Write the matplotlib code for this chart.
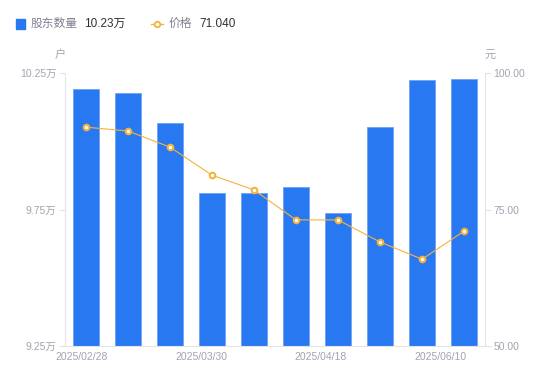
import numpy as np
import matplotlib.pyplot as plt

plt.rcParams['font.family'] = ['Liberation Sans', 'Noto Sans CJK SC', 'DejaVu Sans']

dates = ['2025/02/28', '2025/03/30', '2025/04/18', '2025/06/10']
holders = [10.191, 10.177, 10.067, 9.81, 9.81, 9.832, 9.737, 10.052, 10.225, 10.23]  # 万户
price = [90.1, 89.4, 86.45, 81.3, 78.6, 73.1, 73.1, 69.05, 65.9, 71.04]

blue = '#2878f2'
orange = '#f5b23c'
grey = '#a3a3b3'
axcol = '#e3e3e8'

fig = plt.figure(figsize=(5.5, 3.81), dpi=100)
ax = fig.add_axes([0.118, 0.092, 0.764, 0.716])
ax2 = ax.twinx()

x = np.arange(len(holders))
ax.bar(x, holders, width=0.6, color=blue, edgecolor='#6ea3f5', linewidth=0.6, zorder=2)
ax.set_xlim(-0.5, 9.5)
ax.set_ylim(9.25, 10.25)
ax.set_yticks([9.25, 9.75, 10.25])
ax.set_yticklabels(['9.25万', '9.75万', '10.25万'])

ax2.plot(x, price, color=orange, linewidth=0.8, marker='o', markersize=4,
         markerfacecolor='white', markeredgecolor=orange, markeredgewidth=1.5, zorder=3)
ax2.set_ylim(50, 100)
ax2.set_yticks([50, 75, 100])
ax2.set_yticklabels(['50.00', '75.00', '100.00'])

# date labels are spread evenly, not on the bars
ax.set_xticks(np.linspace(-0.1, 8.43, 4))
ax.set_xticklabels(dates)

for a in (ax, ax2):
    for s in a.spines.values():
        s.set_visible(False)
    a.tick_params(axis='y', colors=axcol, labelcolor=grey, labelsize=7.5, length=4, width=0.8, pad=2)
    a.tick_params(axis='x', length=0, labelcolor=grey, labelsize=7.5, pad=4)
ax.spines['left'].set_visible(True)
ax.spines['left'].set_color(axcol)
ax.spines['bottom'].set_visible(True)
ax.spines['bottom'].set_color(axcol)
ax2.spines['right'].set_visible(True)
ax2.spines['right'].set_color(axcol)

fig.text(0.109, 0.848, '户', color=grey, fontsize=8, ha='center')
fig.text(0.891, 0.848, '元', color=grey, fontsize=8, ha='center')

# legend row
fig.patches.append(plt.Rectangle((0.029, 0.925), 0.016, 0.024, transform=fig.transFigure,
                                 color=blue, figure=fig))
fig.text(0.055, 0.937, '股东数量', color='#808090', fontsize=8.5, va='center')
fig.text(0.153, 0.937, '10.23万', color='#303030', fontsize=8.5, va='center')
leg_line = plt.Line2D([0.275, 0.286, 0.297], [0.937, 0.937, 0.937], transform=fig.transFigure,
                      color=orange, linewidth=1, marker='o', markersize=4, markevery=[1],
                      markerfacecolor='white', markeredgecolor=orange, markeredgewidth=1.3)
fig.lines.append(leg_line)
fig.text(0.307, 0.937, '价格', color='#808090', fontsize=8.5, va='center')
fig.text(0.363, 0.937, '71.040', color='#303030', fontsize=8.5, va='center')

fig.savefig('out.png', dpi=100)
